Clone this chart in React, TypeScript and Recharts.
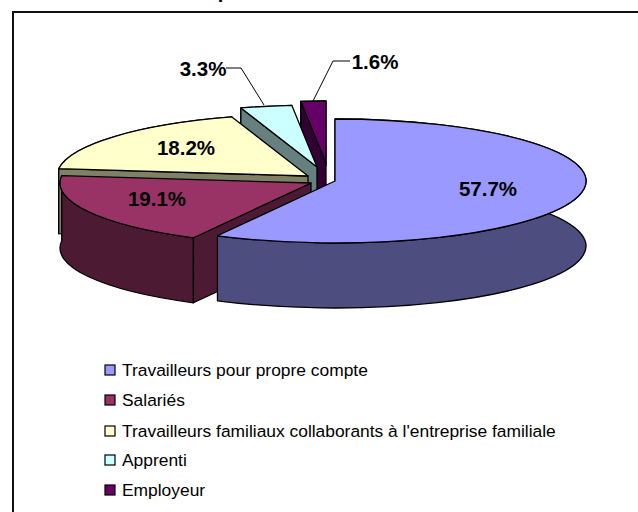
import { Legend, Pie, PieChart } from "recharts";

const names = [
  "Travailleurs pour propre compte",
  "Salariés",
  "Travailleurs familiaux collaborants à l'entreprise familiale",
  "Apprenti",
  "Employeur",
];
const shares = [57.7, 19.1, 18.2, 3.3, 1.6];
const topColors = ["#9999ff", "#993366", "#ffffcc", "#ccffff", "#660066"];
const sideColors = ["#4d4d80", "#4d1a33", "#808066", "#668080", "#330033"];

// sector pulled away from the centre, x and y on screen
const offsets = [
  [0, 0],
  [-24, 2],
  [-27, -5],
  [-18, -14],
  [-9, -18],
];
const legendRows = [370, 400, 431, 460, 490];
// label centre relative to the sector centre, on screen
const labelOffsets = [
  [153, 7],
  [-178, 17],
  [-149, -34],
  [-132, -113],
  [40, -120],
];

const SQUASH = 62 / 251;
const DEPTH = 65;

// painted back to front, so the pie takes the slices in reverse order
const order = [4, 3, 2, 1, 0];
const pieData = order.map((i) => ({
  name: names[i],
  value: shares[i],
  index: i,
}));

function Slice(props: any) {
  const { cx, cy, outerRadius: r, startAngle, endAngle, payload } = props;
  const i = payload.index;
  const ox = cx + offsets[i][0];
  const oy = cy + offsets[i][1];
  const ry = r * SQUASH;
  const pt = (deg: number) => {
    const a = (deg * Math.PI) / 180;
    return [ox + r * Math.cos(a), oy - ry * Math.sin(a)];
  };
  const large = Math.abs(endAngle - startAngle) > 180 ? 1 : 0;
  const [ax, ay] = pt(startAngle);
  const [bx, by] = pt(endAngle);
  const top = `M${ox},${oy}L${ax},${ay}A${r},${ry} 0 ${large} 0 ${bx},${by}Z`;
  const rim = `M${ax},${ay}A${r},${ry} 0 ${large} 0 ${bx},${by}L${bx},${by + DEPTH}A${r},${ry} 0 ${large} 1 ${ax},${ay + DEPTH}Z`;
  // only the cut at the clockwise start of a slice faces the viewer
  const cut = `M${ox},${oy}L${bx},${by}L${bx},${by + DEPTH}L${ox},${oy + DEPTH}Z`;
  const line = { stroke: "#000", strokeWidth: 1.3, strokeLinejoin: "round" as const };
  return (
    <g>
      <path d={rim} fill={sideColors[i]} {...line} />
      {Math.abs(bx - ox) > 1 && <path d={cut} fill={sideColors[i]} {...line} />}
      <path d={top} fill={topColors[i]} {...line} />
    </g>
  );
}

function SliceLabel(props: any) {
  const { cx, cy, payload } = props;
  const i = payload.index;
  const x = cx + labelOffsets[i][0];
  const y = cy + labelOffsets[i][1];
  return (
    <g>
      {i === 3 && (
        <polyline points={`${x + 23},${y} ${x + 38},${y} ${x + 61},${y + 37}`} fill="none" stroke="#000" />
      )}
      {i === 4 && (
        <polyline points={`${x - 25},${y} ${x - 42},${y} ${x - 62},${y + 40}`} fill="none" stroke="#000" />
      )}
      <text
        x={x}
        y={y}
        textAnchor="middle"
        dominantBaseline="central"
        fontFamily="Liberation Sans"
        fontWeight="bold"
        fontSize={20.5}
        fill="#000"
      >
        {shares[i].toFixed(1)}%
      </text>
    </g>
  );
}

function LegendRows() {
  return (
    <svg width={638} height={512} style={{ position: "absolute", left: 0, top: 0 }}>
      {names.map((name, i) => (
        <g key={name}>
          <rect
            x={105}
            y={legendRows[i] - 5}
            width={10}
            height={10}
            fill={topColors[i]}
            stroke="#000"
            strokeWidth={1.2}
          />
          <text
            x={122}
            y={legendRows[i]}
            dominantBaseline="central"
            fontFamily="Liberation Sans"
            fontSize={17.4}
            fill="#000"
          >
            {name}
          </text>
        </g>
      ))}
    </svg>
  );
}

export default function App() {
  return (
    <div style={{ position: "absolute", left: 0, top: 0, width: 638, height: 512, overflow: "hidden", background: "#fff" }}>
      <div
        style={{
          position: "absolute",
          left: 12,
          top: 11,
          width: 640,
          height: 520,
          border: "2px solid #111",
          boxSizing: "border-box",
        }}
      />
      <div
        style={{
          position: "absolute",
          right: 318,
          top: -20,
          fontFamily: "Liberation Sans",
          fontWeight: "bold",
          fontSize: 20,
          whiteSpace: "nowrap",
          color: "#000",
        }}
      >
        Situation dans la profession
      </div>
      <PieChart
        width={638}
        height={512}
        margin={{ top: 0, right: 0, bottom: 0, left: 0 }}
        style={{ position: "absolute", left: 0, top: 0 }}
      >
        <Pie
          data={pieData}
          dataKey="value"
          nameKey="name"
          cx={335}
          cy={181}
          outerRadius={251}
          startAngle={90}
          endAngle={450}
          shape={Slice}
          label={SliceLabel}
          labelLine={false}
          isAnimationActive={false}
        />
        <Legend
          content={LegendRows}
          wrapperStyle={{ position: "absolute", left: 0, top: 0, width: 638, height: 512 }}
        />
      </PieChart>
    </div>
  );
}
